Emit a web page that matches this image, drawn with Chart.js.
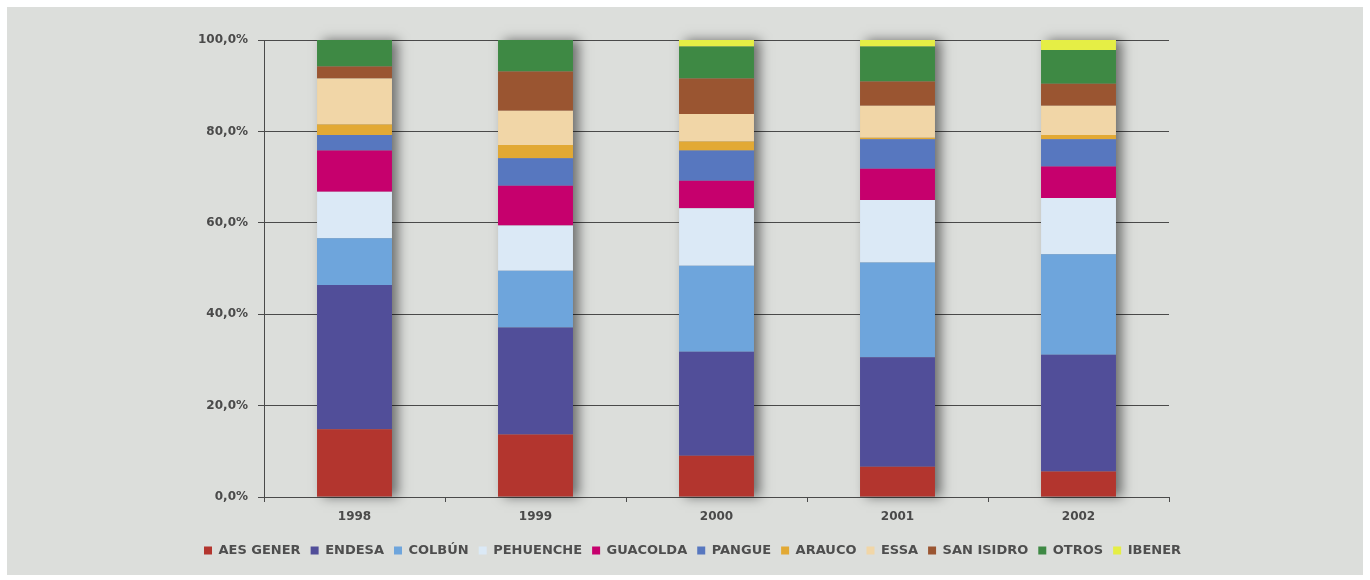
<!DOCTYPE html>
<html>
<head>
<meta charset="utf-8">
<script src="https://cdn.jsdelivr.net/npm/chart.js@4"></script>
<style>
  html, body { margin: 0; padding: 0; background: #ffffff; width: 1370px; height: 580px; overflow: hidden; }
  #wrap { position: absolute; left: 7px; top: 7px; width: 1356px; height: 568px; background: #dcdedb; }
  canvas { display: block; }
</style>
</head>
<body>
<div id="wrap"><canvas id="c" width="1356" height="568"></canvas></div>
<script>
// ---- Data (percent of generation per company) ----
const categories = ['1998', '1999', '2000', '2001', '2002'];
const seriesNames = ['AES GENER', 'ENDESA', 'COLBÚN', 'PEHUENCHE', 'GUACOLDA', 'PANGUE', 'ARAUCO', 'ESSA', 'SAN ISIDRO', 'OTROS', 'IBENER'];
const aesGener  = [14.8, 13.7, 9.0, 6.6, 5.6];
const endesa    = [31.6, 23.4, 22.8, 24.0, 25.5];
const colbun    = [10.2, 12.4, 18.8, 20.7, 22.0];
const pehuenche = [10.2, 9.9, 12.6, 13.7, 12.3];
const guacolda  = [9.0, 8.7, 6.0, 6.8, 6.9];
const pangue    = [3.4, 6.0, 6.6, 6.5, 6.0];
const arauco    = [2.3, 2.9, 2.0, 0.3, 0.9];
const essa      = [10.1, 7.5, 6.0, 7.0, 6.4];
const sanIsidro = [2.6, 8.6, 7.8, 5.3, 4.8];
const otros     = [5.8, 6.9, 7.0, 7.7, 7.4];
const ibener    = [0, 0, 1.4, 1.4, 2.2];
const yTickMin = 0, yTickMax = 100, yTickStep = 20;

const seriesValues = [aesGener, endesa, colbun, pehuenche, guacolda, pangue, arauco, essa, sanIsidro, otros, ibener];
const seriesColors = ['#b3352e', '#514e99', '#6ea5dc', '#dbe9f6', '#c6006d', '#5777bf', '#e2a934', '#f1d6a7', '#9a5531', '#3e8944', '#e5ee45'];

const datasets = seriesNames.map((name, i) => ({
  label: name,
  data: seriesValues[i],
  backgroundColor: seriesColors[i],
  borderWidth: 0,
  stack: 's',
  yAxisID: 'y'
}));

// Shadow to the right of each stacked bar
const barShadow = {
  id: 'barShadow',
  beforeDatasetsDraw(chart) {
    const ctx = chart.ctx;
    const first = chart.getDatasetMeta(0);
    const yScale = chart.scales.y;
    ctx.save();
    first.data.forEach((bar, idx) => {
      let top = bar.y;
      chart.data.datasets.forEach((ds, di) => {
        const el = chart.getDatasetMeta(di).data[idx];
        if (ds.data[idx] > 0 && el.y < top) top = el.y;
      });
      const base = yScale.getPixelForValue(0);
      ctx.shadowColor = 'rgba(0,0,0,0.5)';
      ctx.shadowBlur = 11;
      ctx.shadowOffsetX = 6;
      ctx.shadowOffsetY = 0;
      ctx.fillStyle = '#9a9a9a';
      ctx.fillRect(bar.x - bar.width / 2, top, bar.width, base - top);
    });
    ctx.restore();
  }
};

const FONT = 'DejaVu Sans';

new Chart(document.getElementById('c'), {
  type: 'bar',
  data: { labels: categories, datasets },
  plugins: [barShadow],
  options: {
    responsive: false,
    animation: false,
    layout: { padding: { left: 15, right: 0, top: 33, bottom: 8 } },
    datasets: { bar: { barPercentage: 0.414, categoryPercentage: 1.0 } },
    plugins: {
      tooltip: { enabled: false },
      legend: {
        position: 'bottom',
        labels: {
          boxWidth: 8,
          boxHeight: 8,
          padding: 10,
          color: '#4e4e4e',
          font: { family: FONT, size: 13, weight: 'bold' }
        }
      }
    },
    scales: {
      x: {
        stacked: true,
        afterFit(scale) { scale.height = 37; },
        grid: { display: true, drawOnChartArea: false, drawTicks: true, tickLength: 5, color: '#4a4a4a', offset: true },
        border: { display: true, color: '#4a4a4a', width: 1 },
        ticks: { color: '#4a4a4a', padding: 8, font: { family: FONT, size: 12, weight: 'bold' } }
      },
      y: {
        stacked: true,
        position: 'left',
        min: yTickMin,
        max: yTickMax,
        afterFit(scale) { scale.width = 242; },
        grid: { color: '#4a4a4a', lineWidth: 1, tickLength: 6 },
        border: { display: true, color: '#4a4a4a', width: 1 },
        ticks: {
          stepSize: yTickStep,
          color: '#4a4a4a',
          padding: 10,
          font: { family: FONT, size: 12, weight: 'bold' },
          callback: v => Number(v).toFixed(1).replace('.', ',') + '%'
        }
      },
      yRight: {
        position: 'right',
        min: yTickMin,
        max: yTickMax,
        afterFit(scale) { scale.width = 194; },
        grid: { display: false, drawOnChartArea: false },
        border: { display: false },
        ticks: { display: false }
      }
    }
  }
});
</script>
</body>
</html>
